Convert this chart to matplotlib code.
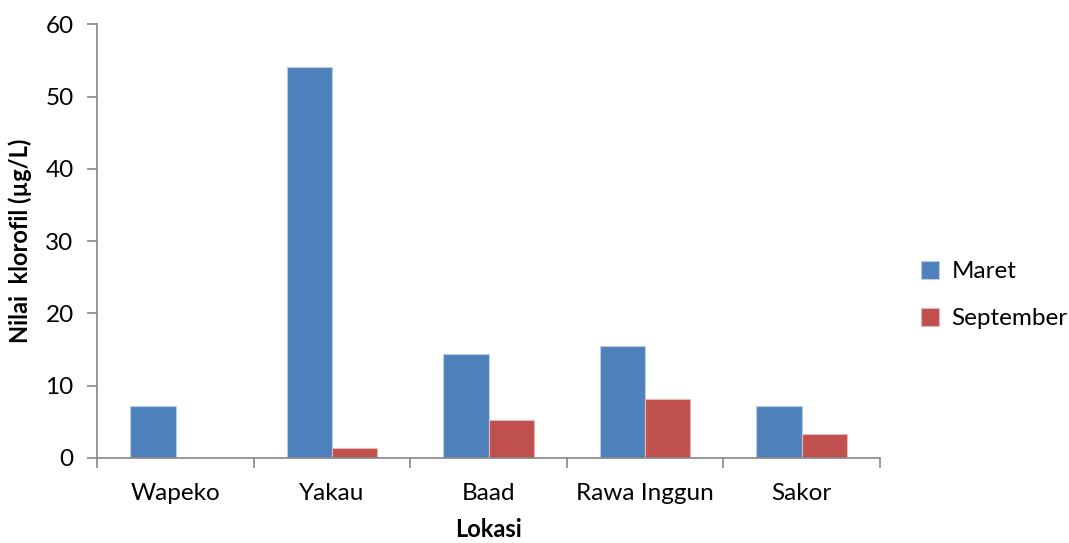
import numpy as np
import matplotlib.pyplot as plt

plt.rcParams['font.family'] = ['Lato', 'DejaVu Sans']

lokasi = ['Wapeko', 'Yakau', 'Baad', 'Rawa Inggun', 'Sakor']
maret = [7.1, 54.1, 14.3, 15.5, 7.1]
september = [0.0, 1.4, 5.2, 8.2, 3.3]

grey = '#868686'
fig, ax = plt.subplots(figsize=(10.69, 5.43), dpi=100)
fig.subplots_adjust(left=0.091, right=0.823, top=0.955, bottom=0.157)

x = np.arange(len(lokasi))
w = 0.288
ax.bar(x - w / 2, maret, w, color='#4F81BD', edgecolor='#B9CDE5', linewidth=0.8, label='Maret')
ax.bar(x + w / 2, september, w, color='#C0504D', edgecolor='#E6B9B8', linewidth=0.8, label='September')

ax.set_xlim(-0.5, len(lokasi) - 0.5)
ax.set_ylim(0, 60)
ax.set_yticks(range(0, 61, 10))
ax.set_xticks(x)
ax.set_xticklabels(lokasi)
ax.set_xticks(np.arange(-0.5, len(lokasi), 1), minor=True)
ax.tick_params(axis='x', which='major', length=0, pad=18, labelsize=17.5)
ax.tick_params(axis='x', which='minor', length=7, color=grey, width=1.2)
ax.tick_params(axis='y', length=7, color=grey, width=1.2, labelsize=17.5, pad=10)

for s in ['top', 'right']:
    ax.spines[s].set_visible(False)
for s in ['left', 'bottom']:
    ax.spines[s].set_color(grey)
    ax.spines[s].set_linewidth(1.2)

ax.set_xlabel('Lokasi', fontsize=17, fontweight='bold', labelpad=10)
ax.set_ylabel('Nilai  klorofil (µg/L)', fontsize=17, fontweight='bold', labelpad=10)

ax.legend(loc='center left', bbox_to_anchor=(1.025, 0.375), frameon=False, fontsize=17.5,
          handlelength=0.75, handleheight=0.75, labelspacing=1.05, handletextpad=0.5)

fig.savefig('out.png', dpi=100)
